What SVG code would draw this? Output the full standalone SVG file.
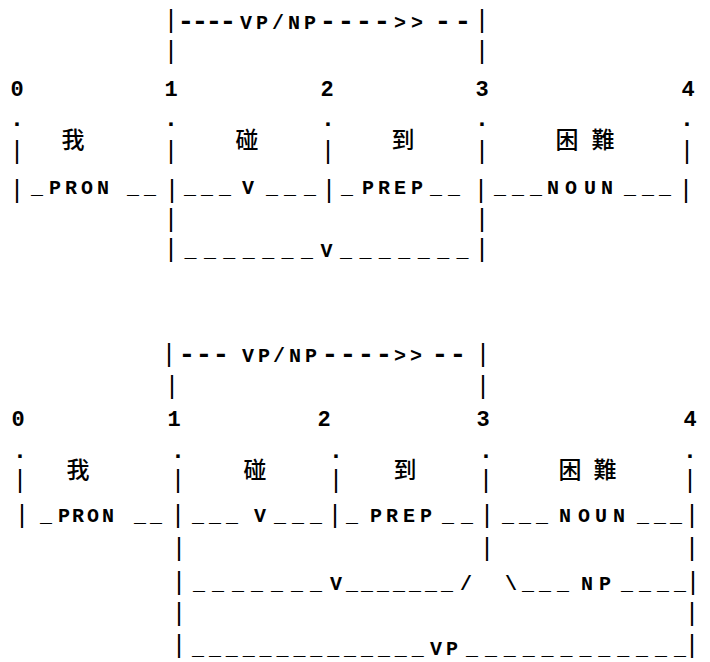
<svg xmlns="http://www.w3.org/2000/svg" width="710" height="662" viewBox="0 0 710 662">
<style>
text{font-family:"Liberation Mono","DejaVu Sans Mono",monospace;font-weight:bold;fill:#000;text-anchor:middle}
.t{font-size:20px}
.dash{font-size:28px}
.b{font-size:25px;font-weight:normal}
.dot{font-size:24px}
.n{font-size:22px}
.zh{font-family:"Noto Sans CJK TC","Noto Sans CJK SC",sans-serif;font-size:23px;font-weight:500}
</style>
<rect width="710" height="662" fill="#fff"/>
<g id="chart-top">
  <g id="top-vpnp">
    <text class="b" x="171" y="28">|</text>
    <text class="b" x="482" y="28">|</text>
    <text class="dash" x="186 200 214 228" y="30">----</text>
    <text class="t" x="246 262 278 294 310" y="29">VP/NP</text>
    <text class="dash" x="328 346 364 382" y="30">----</text>
    <text class="t" x="400 417" y="29">&gt;&gt;</text>
    <text class="dash" x="443 463" y="30">--</text>
    <text class="b" x="171" y="59">|</text>
    <text class="b" x="482" y="59">|</text>
  </g>
  <g id="top-positions">
    <text class="n" x="17" y="96">0</text>
    <text class="n" x="171" y="96">1</text>
    <text class="n" x="327" y="96">2</text>
    <text class="n" x="482" y="96">3</text>
    <text class="n" x="688" y="96">4</text>
  </g>
  <g id="top-words">
    <text class="dot" x="17" y="126">.</text>
    <text class="dot" x="171" y="126">.</text>
    <text class="dot" x="328" y="126">.</text>
    <text class="dot" x="482" y="126">.</text>
    <text class="dot" x="687" y="126">.</text>
    <text class="b" x="17" y="159">|</text>
    <text class="b" x="171" y="159">|</text>
    <text class="b" x="328" y="159">|</text>
    <text class="b" x="482" y="159">|</text>
    <text class="b" x="687" y="159">|</text>
    <text class="zh" x="73" y="148">我</text>
    <text class="zh" x="247" y="148">碰</text>
    <text class="zh" x="403" y="148">到</text>
    <text class="zh" x="567 603" y="148">困難</text>
  </g>
  <g id="top-categories">
    <text class="b" x="17" y="198">|</text>
    <text class="b" x="172" y="198">|</text>
    <text class="b" x="329" y="198">|</text>
    <text class="b" x="481" y="198">|</text>
    <text class="b" x="686" y="198">|</text>
    <text class="t" x="37 55 71 87 103 133 150" y="194">_PRON__</text>
    <text class="t" x="190 207 225 248 272 290 310" y="194">___V___</text>
    <text class="t" x="347 368 384 400 417 436 454" y="194">_PREP__</text>
    <text class="t" x="500 518 536 553 571 590 607 630 648 665" y="194">___NOUN___</text>
  </g>
  <g id="top-v-edge">
    <text class="b" x="171" y="227">|</text>
    <text class="b" x="482" y="227">|</text>
    <text class="b" x="171" y="257">|</text>
    <text class="b" x="482" y="257">|</text>
    <text class="t" x="190.4 209.9 229.3 248.8 268.2 287.6 307.1 326.5 346 365.4 384.8 404.3 423.7 443.2 462.6" y="257">_______V_______</text>
  </g>
</g>
<g id="chart-bottom">
  <g id="bot-vpnp">
    <text class="b" x="169" y="362">|</text>
    <text class="b" x="483" y="362">|</text>
    <text class="dash" x="187 204 221" y="363">---</text>
    <text class="t" x="248 264 279 295 311" y="362">VP/NP</text>
    <text class="dash" x="330 348 366 384" y="363">----</text>
    <text class="t" x="400 416" y="362">&gt;&gt;</text>
    <text class="dash" x="440 458" y="363">--</text>
    <text class="b" x="172" y="394">|</text>
    <text class="b" x="483" y="394">|</text>
  </g>
  <g id="bot-positions">
    <text class="n" x="18" y="426">0</text>
    <text class="n" x="174" y="426">1</text>
    <text class="n" x="324" y="426">2</text>
    <text class="n" x="483" y="426">3</text>
    <text class="n" x="690" y="426">4</text>
  </g>
  <g id="bot-words">
    <text class="dot" x="20" y="458">.</text>
    <text class="dot" x="178" y="458">.</text>
    <text class="dot" x="336" y="458">.</text>
    <text class="dot" x="486" y="458">.</text>
    <text class="dot" x="690" y="458">.</text>
    <text class="b" x="20" y="488">|</text>
    <text class="b" x="178" y="488">|</text>
    <text class="b" x="336" y="488">|</text>
    <text class="b" x="486" y="488">|</text>
    <text class="b" x="690" y="488">|</text>
    <text class="zh" x="78" y="478">我</text>
    <text class="zh" x="255" y="478">碰</text>
    <text class="zh" x="405" y="478">到</text>
    <text class="zh" x="570 605" y="478">困難</text>
  </g>
  <g id="bot-categories">
    <text class="b" x="22" y="523">|</text>
    <text class="b" x="178" y="523">|</text>
    <text class="b" x="335" y="523">|</text>
    <text class="b" x="487" y="523">|</text>
    <text class="b" x="692" y="523">|</text>
    <text class="t" x="46 64 78 93 108 140 156" y="522">_PRON__</text>
    <text class="t" x="198 215 232 260 280 298 316" y="522">___V___</text>
    <text class="t" x="352 376 392 409 426 448 467" y="522">_PREP__</text>
    <text class="t" x="508 525 542 565 584 601 619 643 660 676" y="522">___NOUN___</text>
  </g>
  <g id="bot-v-np-edges">
    <text class="b" x="179" y="556">|</text>
    <text class="b" x="487" y="556">|</text>
    <text class="b" x="692" y="556">|</text>
    <text class="b" x="179" y="590">|</text>
    <text class="b" x="693" y="590">|</text>
    <text class="t" x="199 218 238 257 277 297 316 336 352 367 383 399 415 431 447 466 489 511 528 545 563 587 605 627 645 663 680" y="590">_______V_______/ \___NP____</text>
  </g>
  <g id="bot-vp-edge">
    <text class="b" x="179" y="621">|</text>
    <text class="b" x="692" y="621">|</text>
    <text class="b" x="179" y="653">|</text>
    <text class="b" x="692" y="653">|</text>
    <text class="t" x="198 214.9 231.8 248.7 265.6 282.5 299.4 316.3 333.2 350.1 367 383.9 400.8 417.7 436 452 472 490.9 509.8 528.7 547.6 566.5 585.4 604.3 623.2 642.1 661 679.9" y="655">______________VP____________</text>
  </g>
</g>
</svg>
